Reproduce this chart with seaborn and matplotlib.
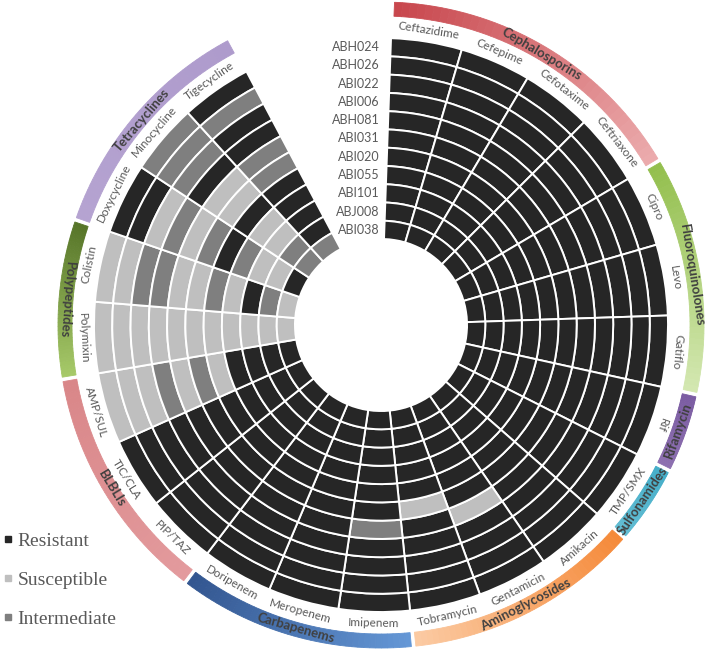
import numpy as np
import pandas as pd
import matplotlib.pyplot as plt
import matplotlib.colors as mcolors
from matplotlib.lines import Line2D
import seaborn as sns

isolates = ['ABH024', 'ABH026', 'ABI022', 'ABI006', 'ABH081', 'ABI031',
            'ABI020', 'ABI055', 'ABI101', 'ABJ008', 'ABI038']
antibiotics = ['Ceftazidime', 'Cefepime', 'Cefotaxime', 'Ceftriaxone', 'Cipro', 'Levo',
               'Gatiflo', 'Rif', 'TMP/SMX', 'Amikacin', 'Gentamicin', 'Tobramycin',
               'Imipenem', 'Meropenem', 'Doripenem', 'PIP/TAZ', 'TIC/CLA', 'AMP/SUL',
               'Polymixin', 'Colistin', 'Doxycycline', 'Minocycline', 'Tigecycline']
# one string per antibiotic, outer ring (ABH024) -> inner ring (ABI038)
# R = resistant, S = susceptible, I = intermediate
profile = [
    'RRRRRRRRRRR',  # Ceftazidime
    'RRRRRRRRRRR',  # Cefepime
    'RRRRRRRRRRR',  # Cefotaxime
    'RRRRRRRRRRR',  # Ceftriaxone
    'RRRRRRRRRRR',  # Cipro
    'RRRRRRRRRRR',  # Levo
    'RRRRRRRRRRR',  # Gatiflo
    'RRRRRRRRRRR',  # Rif
    'RRRRRRRRRRR',  # TMP/SMX
    'RRRRRRRRRRR',  # Amikacin
    'RRRRSRRRRRR',  # Gentamicin
    'RRRRRSRRRRR',  # Tobramycin
    'RRRRIRRRRRR',  # Imipenem
    'RRRRRRRRRRR',  # Meropenem
    'RRRRRRRRRRR',  # Doripenem
    'RRRRRRRRRRR',  # PIP/TAZ
    'RRRRRRRRRRR',  # TIC/CLA
    'SSSISISRRRR',  # AMP/SUL
    'SSSSSSSSSSS',  # Polymixin
    'SSIISSISRIS',  # Colistin
    'RRSISIRISSR',  # Doxycycline
    'IIIRSSRSSII',  # Minocycline
    'RIRRIIRRRRI',  # Tigecycline
]
drug_classes = ['Cephalosporins', 'Fluoroquinolones', 'Rifamycin', 'Sulfonamides',
                'Aminoglycosides', 'Carbapenems', 'BLBLIs', 'Polypeptides', 'Tetracyclines']
class_sizes = [4, 3, 1, 1, 3, 3, 3, 2, 3]
class_colors = [('#c8474d', '#ebaaac'), ('#93bf4e', '#d3e7b0'), ('#7b5ca2', '#8d70b0'),
                ('#45aec9', '#62bdd3'), ('#f58a3a', '#fbcaa2'), ('#6497d6', '#335690'),
                ('#e39a9d', '#d98789'), ('#a6c968', '#577529'), ('#b5a3d1', '#ae9bcc')]
status_colors = {'R': '#262626', 'S': '#bfbfbf', 'I': '#7f7f7f'}
legend_labels = {'R': 'Resistant', 'S': 'Susceptible', 'I': 'Intermediate'}

df = pd.DataFrame({ab: list(p) for ab, p in zip(antibiotics, profile)}, index=isolates)

sns.set_style('white')
plt.rcParams['font.family'] = ['Lato', 'DejaVu Sans']

fig = plt.figure(figsize=(7.10, 6.54), dpi=100)
# centre of the wheel and radial limit, in pixels
cx, cy, rlim = 381, 325, 335
ax = fig.add_axes([(cx - rlim) / 710, 1 - (cy + rlim) / 654, 2 * rlim / 710, 2 * rlim / 654],
                  projection='polar')
ax.set_theta_zero_location('N')
ax.set_theta_direction(-1)
ax.set_ylim(0, rlim)
ax.axis('off')

r_out, r_in = 287, 86
ring = (r_out - r_in) / len(isolates)
start, span = 2.0, 14.35

# cells
thetas, bottoms, cols = [], [], []
for j, ab in enumerate(antibiotics):
    for k, iso in enumerate(isolates):
        thetas.append(np.deg2rad(start + (j + 0.5) * span))
        bottoms.append(r_out - (k + 1) * ring)
        cols.append(status_colors[df.loc[iso, ab]])
ax.bar(thetas, ring, width=np.deg2rad(span), bottom=bottoms, color=cols,
       edgecolor='white', linewidth=1.4, align='center')

# antibiotic labels
for j, ab in enumerate(antibiotics):
    th = start + (j + 0.5) * span
    rot = -th if (th < 116 or th > 275) else 180 - th
    ax.text(np.deg2rad(th), 298, ab, rotation=rot, rotation_mode='anchor',
            ha='center', va='center', fontsize=8.5, color='#595959')

# class bands with gradient
pos = 0
for name, n, (c0, c1) in zip(drug_classes, class_sizes, class_colors):
    a0 = start + pos * span + 0.4
    a1 = start + (pos + n) * span - 0.4
    steps = 40
    edges = np.linspace(a0, a1, steps + 1)
    cmap = mcolors.LinearSegmentedColormap.from_list(name, [c0, c1])
    mids = (edges[:-1] + edges[1:]) / 2
    shades = [cmap(t) for t in np.linspace(0, 1, steps)]
    ax.bar(np.deg2rad(mids), 14, width=np.deg2rad(edges[1] - edges[0]), bottom=309,
           color=shades, edgecolor=shades, linewidth=0.6, align='center')
    th = (a0 + a1) / 2
    rot = -th if (th < 100 or th > 280) else 180 - th
    ax.text(np.deg2rad(th), 315, name, rotation=rot, rotation_mode='anchor',
            ha='center', va='center', fontsize=9.5, fontweight='bold', color='#404040')
    pos += n

# isolate labels
for k, iso in enumerate(isolates):
    ax.annotate(iso, xy=(0, r_out - (k + 0.5) * ring), xytext=(-1, 0),
                textcoords='offset points', ha='right', va='center',
                fontsize=9, color='#595959')

handles = [Line2D([], [], marker='s', linestyle='', markersize=4.5,
                  color=status_colors[s]) for s in ['R', 'S', 'I']]
leg = fig.legend(handles, [legend_labels[s] for s in ['R', 'S', 'I']],
                 loc='upper left', bbox_to_anchor=(0.0, 1 - 529 / 654),
                 frameon=False, handlelength=0.5, handletextpad=0.25,
                 labelspacing=1.1, borderaxespad=0, borderpad=0.15,
                 prop={'family': 'Liberation Serif', 'size': 14})
for t in leg.get_texts():
    t.set_color('#595959')

fig.savefig('out.png', dpi=100)
